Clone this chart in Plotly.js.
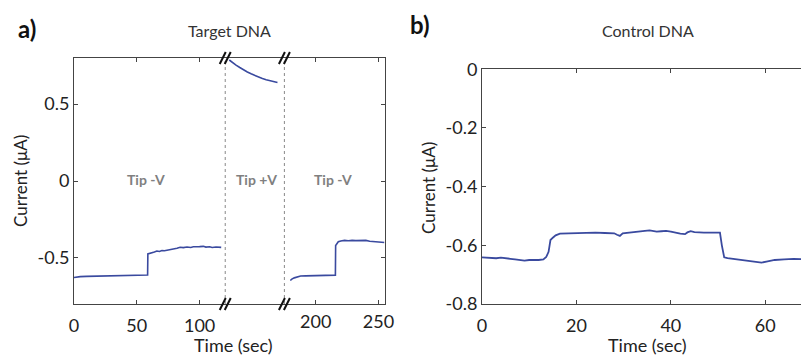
<!DOCTYPE html>
<html>
<head>
<meta charset="utf-8">
<script src="https://cdn.plot.ly/plotly-3.0.1.min.js"></script>
<style>
html,body{margin:0;padding:0;overflow:hidden;background:#fff;}
#chart{width:830px;height:355px;}
</style>
</head>
<body>
<div id="chart"></div>
<script>
// ---- Panel a: Target DNA (broken time axis) ----
const tLeft = [0,2,5,10,15,20,25,30,35,40,45,50,55,58.6,58.8,60,62,64,66,68,70,72,75,78,80,82,84.5,87,90,93,95,98,100,103,105,108,110,113,115,117.2];
const iLeft = [-0.628,-0.624,-0.622,-0.620,-0.619,-0.618,-0.617,-0.616,-0.615,-0.614,-0.613,-0.612,-0.611,-0.611,-0.474,-0.472,-0.468,-0.462,-0.455,-0.458,-0.452,-0.454,-0.449,-0.446,-0.443,-0.438,-0.431,-0.433,-0.429,-0.432,-0.428,-0.430,-0.427,-0.425,-0.430,-0.428,-0.432,-0.429,-0.431,-0.432];

const tMid = [123.6,126,129,132,135,138,141,144,147,150,153,156,159,162];
const iMid = [0.787,0.770,0.754,0.738,0.722,0.709,0.697,0.686,0.676,0.667,0.659,0.652,0.646,0.640];

const tRight = [179.8,181,183,185,188,192,196,200,205,210,214,215.7,215.9,217,218,220,223,226,229,232,235,238,240,243,246,249,252,254.8];
const iRight = [-0.647,-0.638,-0.630,-0.624,-0.618,-0.617,-0.616,-0.615,-0.614,-0.613,-0.612,-0.612,-0.420,-0.405,-0.395,-0.390,-0.386,-0.389,-0.386,-0.388,-0.386,-0.384,-0.386,-0.392,-0.395,-0.397,-0.398,-0.400];

const ticksLeftVals = [0,50,100];
const ticksRightVals = [200,250];
const breakPos = [120.4,167.5];          // break positions on the left-time axis
const phaseLabels = ["Tip -V","Tip +V","Tip -V"];
const phaseLabelX = [57.4,145,206.5];

// ---- Panel b: Control DNA ----
const tCtrl = [0,1,2,3,4,5,6,7,8,9,10,11,12,13,13.6,14.1,14.5,15,15.6,16.5,18,20,22,24,26,28,28.6,29.2,29.8,31,33,34.5,35.5,37,38,39,40,41,42,43,43.5,44.2,45,47,49,50.4,50.8,51.3,52,53,54,55,56,57,58,59.2,60.5,62,64,66,68,70];
const iCtrl = [-0.641,-0.642,-0.643,-0.644,-0.642,-0.645,-0.646,-0.648,-0.651,-0.652,-0.650,-0.651,-0.650,-0.648,-0.640,-0.622,-0.582,-0.574,-0.566,-0.560,-0.559,-0.558,-0.557,-0.557,-0.558,-0.559,-0.564,-0.568,-0.559,-0.557,-0.556,-0.551,-0.549,-0.553,-0.552,-0.551,-0.553,-0.557,-0.560,-0.562,-0.556,-0.552,-0.555,-0.557,-0.557,-0.557,-0.600,-0.641,-0.644,-0.646,-0.648,-0.649,-0.652,-0.653,-0.655,-0.659,-0.655,-0.650,-0.648,-0.646,-0.647,-0.648];

const W = 830, H = 355;
const px = v => v / W;
const py = v => (H - v) / H;

const FONT = "Lato, 'Open Sans', sans-serif";
const lineColor = "#3a4a9f";
const axisColor = "#444";

const traces = [
  {x: tLeft, y: iLeft, xaxis: 'x', yaxis: 'y', mode: 'lines', line: {color: lineColor, width: 1.6}, hoverinfo: 'skip'},
  {x: tMid, y: iMid, xaxis: 'x', yaxis: 'y', mode: 'lines', line: {color: lineColor, width: 1.6}, hoverinfo: 'skip'},
  {x: tRight, y: iRight, xaxis: 'x3', yaxis: 'y', mode: 'lines', line: {color: lineColor, width: 1.6}, hoverinfo: 'skip'},
  {x: tCtrl, y: iCtrl, xaxis: 'x2', yaxis: 'y2', mode: 'lines', line: {color: lineColor, width: 1.8}, hoverinfo: 'skip'}
];

const tickFont = {family: FONT, size: 18, color: '#222'};
const axBase = {
  showgrid: false, zeroline: false, showline: true, linecolor: axisColor, linewidth: 1,
  ticks: 'inside', ticklen: 4, tickcolor: axisColor, tickwidth: 1, mirror: 'ticks',
  tickfont: tickFont, automargin: false, fixedrange: true
};
const xExtra = {ticklabelstandoff: 5};

const aDomX = [px(74), px(384.5)];
const aDomY = [py(304), py(58)];
const bDomX = [px(482), px(812.5)];
const bDomY = [py(304), py(69.3)];

const shapes = [];
breakPos.forEach(b => {
  shapes.push({type: 'line', xref: 'x', yref: 'y', x0: b, x1: b, y0: -0.8, y1: 0.8,
               line: {color: '#888', width: 1, dash: 'dot'}, layer: 'below'});
  [aDomY[0], aDomY[1]].forEach(ya => {
    [-2.5, 2.5].forEach(dx => {
      shapes.push({type: 'line', xref: 'x', yref: 'paper', xsizemode: 'pixel', ysizemode: 'pixel',
                   xanchor: b, yanchor: ya, x0: dx - 3, x1: dx + 3, y0: -6, y1: 6,
                   line: {color: '#111', width: 2}});
    });
  });
});

function ann(text, x, y, size, color, extra) {
  return Object.assign({text: text, xref: 'paper', yref: 'paper', x: px(x), y: py(y), showarrow: false,
    xanchor: 'center', yanchor: 'middle', font: {family: FONT, size: size, color: color}}, extra || {});
}

const annotations = [
  ann('<b>a)</b>', 26.5, 28, 24, '#111'),
  ann('<b>b)</b>', 420, 24, 24, '#111'),
  ann('Target DNA', 229, 30, 16, '#333'),
  ann('Control DNA', 648, 30, 16, '#333'),
  ann('Time (sec)', 233, 345, 18, '#222'),
  ann('Time (sec)', 647, 345, 18, '#222'),
  ann('Current (μA)', 20, 181, 17, '#222', {textangle: -90}),
  ann('Current (μA)', 428, 188, 17, '#222', {textangle: -90})
];
phaseLabels.forEach((t, i) => {
  annotations.push({text: '<b>' + t + '</b>', xref: 'x', yref: 'y', x: phaseLabelX[i], y: 0.01, showarrow: false,
                    xanchor: 'center', yanchor: 'middle',
                    font: {family: FONT, size: 14, color: '#808080'}});
});

const layout = {
  width: W, height: H,
  margin: {l: 0, r: 0, t: 0, b: 0},
  paper_bgcolor: '#fff', plot_bgcolor: '#fff',
  showlegend: false,
  font: {family: FONT},
  xaxis: Object.assign({}, axBase, xExtra, {domain: aDomX, range: [0, 247.2], anchor: 'y',
          tickmode: 'array', tickvals: ticksLeftVals, ticktext: ticksLeftVals.map(String)}),
  xaxis3: Object.assign({}, axBase, xExtra, {domain: aDomX, range: [7.6, 254.8], overlaying: 'x', anchor: 'y', side: 'bottom',
          showline: false, tickmode: 'array', tickvals: ticksRightVals, ticktext: ticksRightVals.map(String)}),
  yaxis: Object.assign({}, axBase, {domain: aDomY, range: [-0.8, 0.8], anchor: 'x',
          tickmode: 'array', tickvals: [-0.5, 0, 0.5], ticktext: ['-0.5', '0', '0.5']}),
  xaxis2: Object.assign({}, axBase, xExtra, {domain: bDomX, range: [0, 70], anchor: 'y2',
          tickmode: 'array', tickvals: [0, 20, 40, 60], ticktext: ['0', '20', '40', '60']}),
  yaxis2: Object.assign({}, axBase, {domain: bDomY, range: [-0.8, 0], anchor: 'x2',
          tickmode: 'array', tickvals: [-0.8, -0.6, -0.4, -0.2, 0], ticktext: ['-0.8', '-0.6', '-0.4', '-0.2', '0']}),
  shapes: shapes,
  annotations: annotations
};

Plotly.newPlot('chart', traces, layout, {displayModeBar: false, staticPlot: true});
</script>
</body>
</html>
